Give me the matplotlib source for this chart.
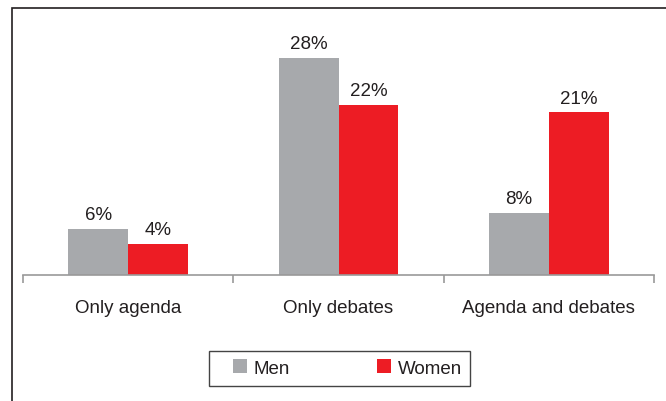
import numpy as np
import matplotlib.pyplot as plt
from matplotlib.patches import Rectangle

categories = ['Only agenda', 'Only debates', 'Agenda and debates']
men = [6, 28, 8]
women = [4, 22, 21]
labels_men = ['6%', '28%', '8%']
labels_women = ['4%', '22%', '21%']

plt.rcParams['font.family'] = ['Liberation Sans', 'DejaVu Sans']
fs = 13.5

fig = plt.figure(figsize=(6.66, 4.02), dpi=100)
ax = fig.add_axes([23 / 666, 126 / 402, 631 / 666, 232.5 / 402])

# outer frame (runs off the right/bottom edge like the original crop)
fig.patches.append(Rectangle((12 / 666, -0.1), 1.2, 1 - 9 / 402 + 0.1,
                             transform=fig.transFigure, fill=False,
                             edgecolor='#231f20', linewidth=1.2))
# legend box, wider on the left than the entries need
fig.patches.append(Rectangle((209 / 666, 1 - 387 / 402), 261 / 666, 35 / 402,
                             transform=fig.transFigure, fill=False,
                             edgecolor='#444444', linewidth=1.0))

x = np.arange(len(categories))
w = 0.285
b1 = ax.bar(x - w / 2, men, w, color='#a7a9ac', label='Men')
b2 = ax.bar(x + w / 2, women, w, color='#ed1c24', label='Women')

for bar, t in zip(list(b1) + list(b2), labels_men + labels_women):
    ax.annotate(t, (bar.get_x() + bar.get_width() / 2, bar.get_height()),
                xytext=(0, 4), textcoords='offset points', ha='center',
                va='bottom', fontsize=fs, color='#231f20')

ax.set_xlim(-0.5, 2.5)
ax.set_ylim(0, 30)
ax.set_yticks([])
for s in ['top', 'right', 'left']:
    ax.spines[s].set_visible(False)
ax.spines['bottom'].set_color('#999999')
ax.spines['bottom'].set_linewidth(1.2)

ax.set_xticks(x)
ax.set_xticklabels(categories, fontsize=fs, color='#231f20')
ax.tick_params(axis='x', which='major', length=0, pad=17)
ax.set_xticks([-0.5, 0.5, 1.5, 2.5], minor=True)
ax.tick_params(axis='x', which='minor', length=6, width=1.2, color='#999999')

leg = fig.legend(handles=[b1, b2], loc='center', ncol=2,
                 bbox_to_anchor=(347.5 / 666, 1 - 369 / 402),
                 fontsize=fs, frameon=False,
                 handlelength=0.75, handleheight=0.75, handletextpad=0.35,
                 columnspacing=4.65, borderpad=0.0, borderaxespad=0)
for t in leg.get_texts():
    t.set_color('#231f20')

fig.savefig('out.png', dpi=100)
